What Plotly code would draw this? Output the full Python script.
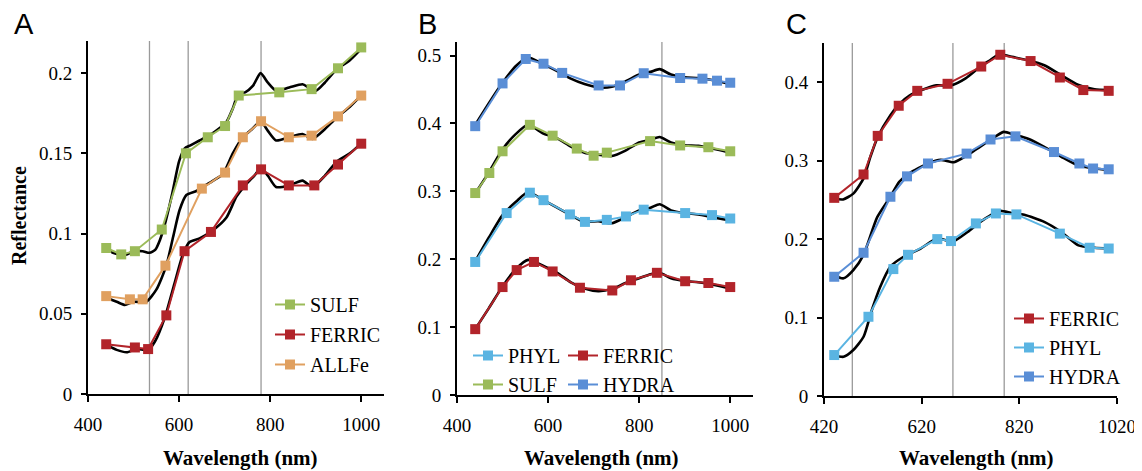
import plotly.graph_objects as go

# ---------------- Panel A data ----------------
wl_A_sulf = [440, 473, 503, 562, 615, 663, 701, 731, 820, 891, 949, 1000]
A_sulf = [0.091, 0.087, 0.089, 0.1025, 0.150, 0.160, 0.167, 0.186, 0.188, 0.190, 0.203, 0.216]
wl_A_ferric = [440, 503, 532, 572, 612, 670, 740, 780, 841, 897, 949, 1000]
A_ferric = [0.031, 0.029, 0.028, 0.049, 0.089, 0.101, 0.130, 0.140, 0.130, 0.130, 0.143, 0.156]
wl_A_allfe = [440, 492, 520, 570, 650, 701, 740, 780, 841, 891, 949, 1000]
A_allfe = [0.061, 0.059, 0.059, 0.080, 0.128, 0.138, 0.160, 0.170, 0.160, 0.161, 0.173, 0.186]

wl_A_sulf_spec = [440, 455, 470, 485, 500, 520, 535, 548, 558, 569, 585, 600, 612, 625, 645, 665, 690, 705, 718, 730, 745, 762, 779, 795, 813, 842, 871, 885, 901, 920, 945, 975, 1003]
A_sulf_spec = [0.091, 0.088, 0.087, 0.087, 0.089, 0.089, 0.088, 0.090, 0.096, 0.106, 0.125, 0.145, 0.153, 0.155, 0.158, 0.161, 0.166, 0.170, 0.178, 0.187, 0.188, 0.192, 0.200, 0.194, 0.189, 0.191, 0.193, 0.191, 0.189, 0.194, 0.202, 0.208, 0.216]
wl_A_allfe_spec = [440, 463, 481, 499, 528, 550, 572, 587, 601, 616, 638, 652, 675, 696, 718, 740, 760, 779, 795, 813, 842, 871, 893, 920, 945, 975, 1003]
A_allfe_spec = [0.060, 0.0575, 0.0555, 0.0575, 0.0575, 0.065, 0.080, 0.098, 0.1145, 0.124, 0.1265, 0.129, 0.133, 0.137, 0.150, 0.160, 0.165, 0.170, 0.164, 0.158, 0.160, 0.162, 0.159, 0.165, 0.172, 0.179, 0.187]
wl_A_ferric_spec = [441, 463, 485, 507, 532, 547, 569, 590, 609, 623, 645, 674, 704, 726, 748, 765, 780, 795, 813, 842, 871, 893, 920, 945, 975, 1003]
A_ferric_spec = [0.0306, 0.0275, 0.026, 0.028, 0.0275, 0.0327, 0.048, 0.069, 0.0876, 0.0948, 0.097, 0.102, 0.110, 0.123, 0.131, 0.136, 0.141, 0.136, 0.129, 0.130, 0.133, 0.129, 0.136, 0.1445, 0.150, 0.157]

# ---------------- Panel B data ----------------
wl_B_hydra = [440, 500, 551, 590, 631, 711, 758, 810, 890, 939, 971, 1000]
B_hydra = [0.396, 0.459, 0.495, 0.488, 0.4745, 0.456, 0.456, 0.474, 0.467, 0.466, 0.463, 0.460]
wl_B_sulf = [440, 471, 500, 560, 610, 663, 700, 729, 824, 890, 952, 1000]
B_sulf = [0.2975, 0.327, 0.359, 0.398, 0.382, 0.363, 0.3525, 0.357, 0.374, 0.3676, 0.365, 0.359]
wl_B_phyl = [440, 509, 560, 590, 648, 681, 729, 771, 810, 901, 960, 1000]
B_phyl = [0.196, 0.268, 0.298, 0.287, 0.266, 0.255, 0.258, 0.263, 0.273, 0.268, 0.265, 0.260]
wl_B_ferric = [440, 500, 531, 569, 610, 670, 741, 782, 839, 901, 952, 1000]
B_ferric = [0.097, 0.159, 0.184, 0.196, 0.182, 0.158, 0.154, 0.169, 0.180, 0.1676, 0.165, 0.159]

wl_B_spec = [440, 470, 500, 530, 556, 590, 620, 650, 680, 710, 740, 770, 800, 825, 845, 870, 900, 930, 960, 1000]
B_hydra_spec = [0.398, 0.430, 0.460, 0.485, 0.497, 0.487, 0.477, 0.466, 0.458, 0.453, 0.454, 0.462, 0.472, 0.476, 0.480, 0.472, 0.468, 0.467, 0.464, 0.458]
B_sulf_spec = [0.297, 0.328, 0.362, 0.385, 0.398, 0.385, 0.378, 0.366, 0.357, 0.354, 0.352, 0.360, 0.372, 0.376, 0.380, 0.372, 0.368, 0.367, 0.363, 0.357]
B_phyl_spec = [0.197, 0.232, 0.265, 0.285, 0.299, 0.287, 0.276, 0.265, 0.255, 0.256, 0.253, 0.262, 0.272, 0.276, 0.281, 0.272, 0.268, 0.266, 0.262, 0.257]
B_ferric_spec = [0.097, 0.128, 0.160, 0.186, 0.199, 0.190, 0.180, 0.166, 0.157, 0.153, 0.156, 0.165, 0.172, 0.178, 0.180, 0.172, 0.168, 0.166, 0.163, 0.157]

# ---------------- Panel C data ----------------
wl_C_ferric = [441, 501, 530, 573, 611, 673, 742, 781, 843, 903, 951, 1003]
C_ferric = [0.2526, 0.2824, 0.3316, 0.370, 0.389, 0.398, 0.420, 0.435, 0.427, 0.406, 0.390, 0.389]
wl_C_hydra = [441, 501, 556, 590, 633, 712, 761, 812, 891, 943, 971, 1003]
C_hydra = [0.152, 0.1826, 0.254, 0.280, 0.2964, 0.309, 0.327, 0.331, 0.311, 0.2964, 0.290, 0.289]
wl_C_phyl = [441, 511, 562, 592, 652, 680, 731, 772, 814, 903, 964, 1003]
C_phyl = [0.0522, 0.101, 0.1618, 0.180, 0.200, 0.1975, 0.220, 0.2327, 0.2315, 0.207, 0.189, 0.188]

wl_C_ferric_spec = [439, 459, 480, 501, 515, 530, 556, 574, 595, 620, 650, 680, 710, 740, 760, 780, 800, 838, 871, 906, 940, 974, 1003]
C_ferric_spec = [0.252, 0.2506, 0.258, 0.2775, 0.305, 0.330, 0.358, 0.372, 0.383, 0.390, 0.396, 0.396, 0.405, 0.420, 0.428, 0.436, 0.433, 0.428, 0.4217, 0.409, 0.397, 0.391, 0.390]
wl_C_hydra_spec = [439, 460, 480, 501, 529, 556, 574, 595, 632, 659, 686, 714, 740, 760, 788, 810, 838, 871, 906, 940, 974, 1003]
C_hydra_spec = [0.154, 0.150, 0.1605, 0.180, 0.228, 0.254, 0.273, 0.284, 0.296, 0.301, 0.298, 0.307, 0.318, 0.326, 0.3367, 0.333, 0.328, 0.3176, 0.305, 0.294, 0.290, 0.288]
wl_C_phyl_spec = [439, 460, 480, 501, 518, 535, 556, 583, 618, 652, 683, 714, 740, 760, 781, 805, 830, 871, 906, 941, 974, 1003]
C_phyl_spec = [0.052, 0.050, 0.0586, 0.0755, 0.1096, 0.139, 0.165, 0.1775, 0.188, 0.201, 0.1966, 0.209, 0.222, 0.230, 0.236, 0.233, 0.231, 0.222, 0.209, 0.192, 0.189, 0.188]

# band lines (nm)
bands_A = [535, 620, 780]
bands_B = [850]
bands_C = [478, 684, 789]

# tick labels
xt_AB = [400, 600, 800, 1000]
xt_C = [420, 620, 820, 1020]
yt_A = [0, 0.05, 0.1, 0.15, 0.2]
yt_A_txt = ["0", "0.05", "0.1", "0.15", "0.2"]
yt_B = [0, 0.1, 0.2, 0.3, 0.4, 0.5]
yt_B_txt = ["0", "0.1", "0.2", "0.3", "0.4", "0.5"]
yt_C = [0, 0.1, 0.2, 0.3, 0.4]
yt_C_txt = ["0", "0.1", "0.2", "0.3", "0.4"]

COL = {
    "SULF": "#9BBB59",
    "FERRIC": "#B2242A",
    "ALLFe": "#E0A060",
    "PHYL": "#5AB4E2",
    "HYDRA": "#5A8ED6",
}
SERIF = "Liberation Serif"

fig = go.Figure()


def spec(x, y, xa, ya):
    fig.add_trace(go.Scatter(x=x, y=y, xaxis=xa, yaxis=ya, mode="lines",
                             line=dict(color="black", width=2.6, shape="spline", smoothing=0.6),
                             showlegend=False, hoverinfo="skip"))


def series(x, y, name, xa, ya, legend, group):
    fig.add_trace(go.Scatter(x=x, y=y, xaxis=xa, yaxis=ya, mode="lines+markers", name=name,
                             line=dict(color=COL[name], width=2),
                             marker=dict(symbol="square", size=10, color=COL[name]),
                             legend=legend, legendgroup=group))


# Panel A
spec(wl_A_sulf_spec, A_sulf_spec, "x", "y")
spec(wl_A_allfe_spec, A_allfe_spec, "x", "y")
spec(wl_A_ferric_spec, A_ferric_spec, "x", "y")
series(wl_A_sulf, A_sulf, "SULF", "x", "y", "legend", "a1")
series(wl_A_ferric, A_ferric, "FERRIC", "x", "y", "legend", "a2")
series(wl_A_allfe, A_allfe, "ALLFe", "x", "y", "legend", "a3")

# Panel B
spec(wl_B_spec, B_hydra_spec, "x2", "y2")
spec(wl_B_spec, B_sulf_spec, "x2", "y2")
spec(wl_B_spec, B_phyl_spec, "x2", "y2")
spec(wl_B_spec, B_ferric_spec, "x2", "y2")
series(wl_B_phyl, B_phyl, "PHYL", "x2", "y2", "legend2", "b1")
series(wl_B_sulf, B_sulf, "SULF", "x2", "y2", "legend2", "b2")
series(wl_B_ferric, B_ferric, "FERRIC", "x2", "y2", "legend3", "b3")
series(wl_B_hydra, B_hydra, "HYDRA", "x2", "y2", "legend3", "b4")

# Panel C
spec(wl_C_ferric_spec, C_ferric_spec, "x3", "y3")
spec(wl_C_hydra_spec, C_hydra_spec, "x3", "y3")
spec(wl_C_phyl_spec, C_phyl_spec, "x3", "y3")
series(wl_C_ferric, C_ferric, "FERRIC", "x3", "y3", "legend4", "c1")
series(wl_C_phyl, C_phyl, "PHYL", "x3", "y3", "legend4", "c2")
series(wl_C_hydra, C_hydra, "HYDRA", "x3", "y3", "legend4", "c3")

shapes = []
for xref, yref, bands in (("x", "y domain", bands_A), ("x2", "y2 domain", bands_B), ("x3", "y3 domain", bands_C)):
    for b in bands:
        shapes.append(dict(type="line", xref=xref, yref=yref, x0=b, x1=b, y0=0, y1=1,
                           line=dict(color="#9a9a9a", width=1.3), layer="below"))

# the page body adds an 8px offset; lay out in window pixels minus that offset
OFF = 8
W, H = 1142 - OFF, 471 - OFF


def PX(x):
    return (x - OFF) / W


def PY(y):
    return 1 - (y - OFF) / H


tickfont = dict(family=SERIF, size=19, color="black")


def xax(dom, rng, tv, anchor):
    return dict(domain=dom, range=rng, tickvals=tv, ticktext=[str(v) for v in tv], anchor=anchor,
                showgrid=False, zeroline=False, showline=True, linecolor="black", linewidth=2,
                ticks="outside", ticklen=6, tickwidth=2, tickcolor="black", tickfont=tickfont,
                ticklabelstandoff=6, fixedrange=True, automargin=False)


def yax(dom, rng, tv, tt, anchor):
    return dict(domain=dom, range=rng, tickvals=tv, ticktext=tt, anchor=anchor,
                showgrid=False, zeroline=False, showline=True, linecolor="black", linewidth=2,
                ticks="outside", ticklen=5, tickwidth=2, tickcolor="black", tickfont=tickfont,
                ticklabelstandoff=5, fixedrange=True, automargin=False)


legbase = dict(font=dict(family=SERIF, size=20, color="black"), bgcolor="rgba(0,0,0,0)",
               xanchor="left", yanchor="top", orientation="v", itemclick=False, itemdoubleclick=False)

fig.update_layout(
    width=W, height=H, margin=dict(l=0, r=0, t=0, b=0, autoexpand=False),
    paper_bgcolor="white", plot_bgcolor="white",
    xaxis=xax([PX(88), PX(384)], [400, 1050], xt_AB, "y"),
    yaxis=yax([PY(394), PY(41)], [0, 0.22], yt_A, yt_A_txt, "x"),
    xaxis2=xax([PX(457), PX(753)], [400, 1050], xt_AB, "y2"),
    yaxis2=yax([PY(395), PY(42)], [0, 0.52], yt_B, yt_B_txt, "x2"),
    xaxis3=xax([PX(824), PX(1117)], [420, 1020], xt_C, "y3"),
    yaxis3=yax([PY(396), PY(43)], [0, 0.45], yt_C, yt_C_txt, "x3"),
    shapes=shapes,
    legend=dict(legbase, x=PX(270), y=PY(285), tracegroupgap=1),
    legend2=dict(legbase, x=PX(468), y=PY(336), tracegroupgap=0),
    legend3=dict(legbase, x=PX(563), y=PY(336), tracegroupgap=0),
    legend4=dict(legbase, x=PX(1009), y=PY(299), tracegroupgap=0),
    showlegend=True,
)

ann = []
for xc in (240, 601, 976):
    ann.append(dict(text="<b>Wavelength (nm)</b>", x=PX(xc), y=PY(458), xref="paper", yref="paper",
                    showarrow=False, font=dict(family=SERIF, size=21, color="black"),
                    xanchor="center", yanchor="middle"))
ann.append(dict(text="<b>Reflectance</b>", x=PX(19), y=PY(216), xref="paper", yref="paper",
                showarrow=False, textangle=-90, font=dict(family=SERIF, size=20, color="black"),
                xanchor="center", yanchor="middle"))
for xl, lab in ((12, "A"), (416, "B"), (784, "C")):
    ann.append(dict(text=lab, x=PX(xl), y=PY(24), xref="paper", yref="paper", showarrow=False,
                    font=dict(family="Liberation Sans", size=29, color="black"),
                    xanchor="left", yanchor="middle"))
fig.update_layout(annotations=ann)

fig.write_html("out.html")
